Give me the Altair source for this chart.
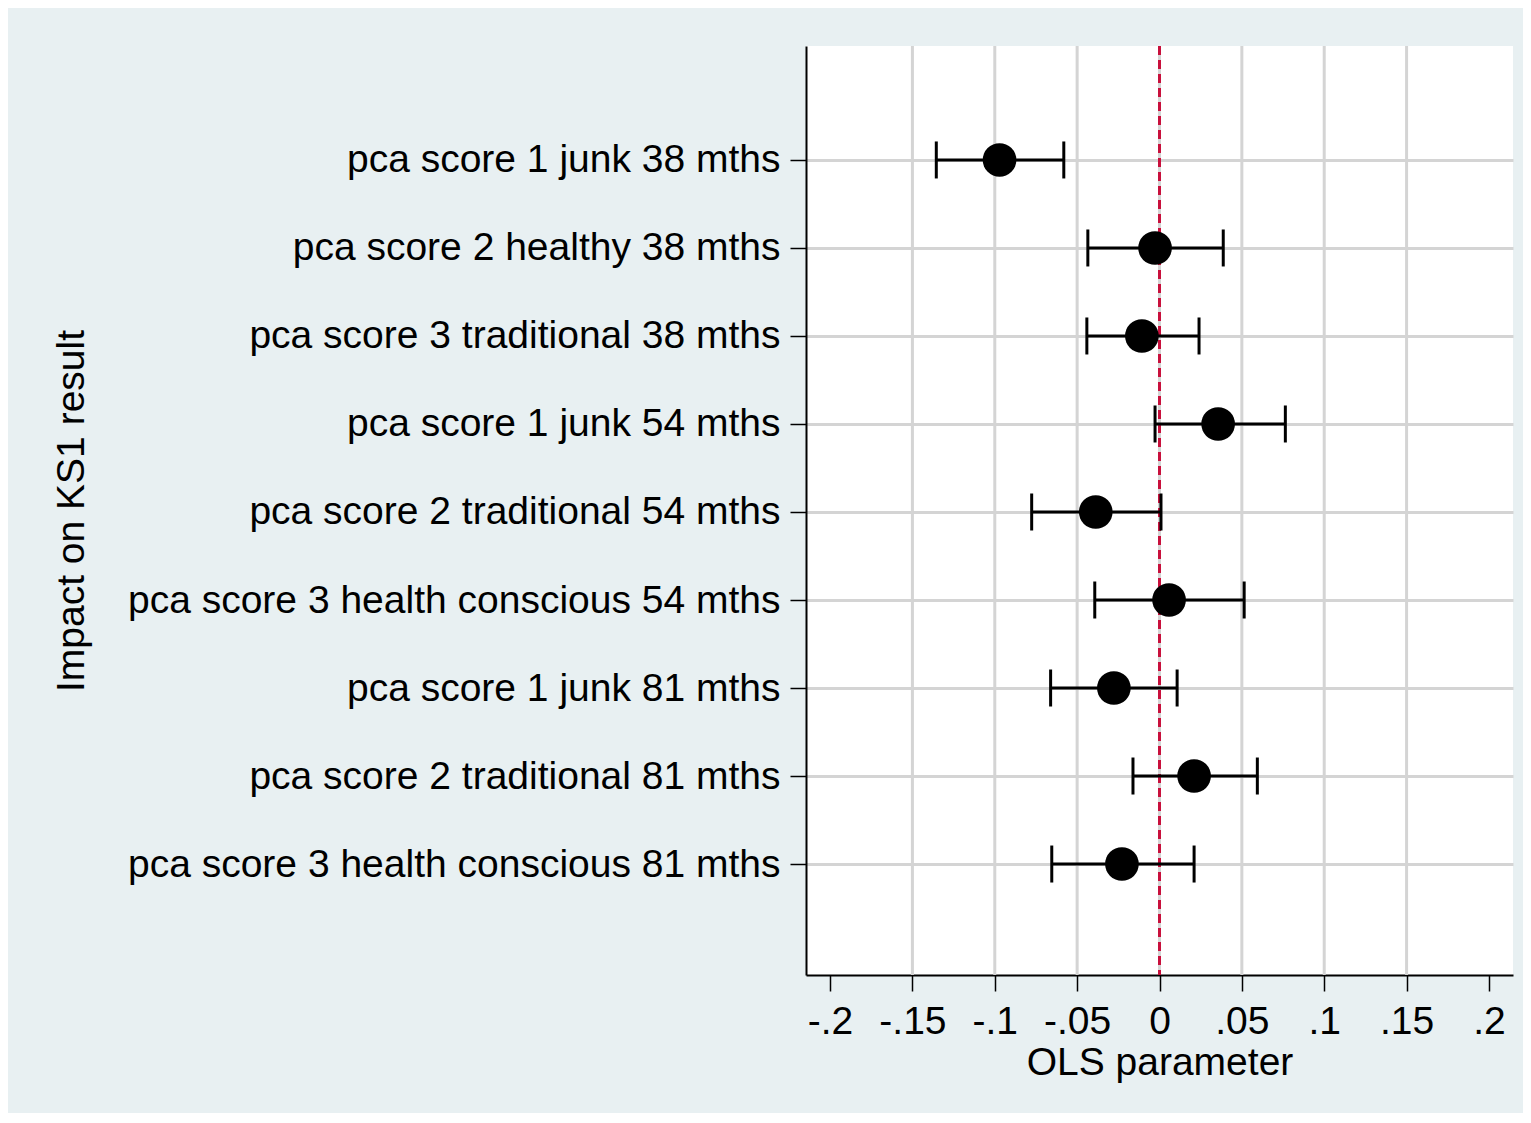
import altair as alt
import pandas as pd

labels = [
    "pca score 1 junk 38 mths",
    "pca score 2 healthy 38 mths",
    "pca score 3 traditional 38 mths",
    "pca score 1 junk 54 mths",
    "pca score 2 traditional 54 mths",
    "pca score 3 health conscious 54 mths",
    "pca score 1 junk 81 mths",
    "pca score 2 traditional 81 mths",
    "pca score 3 health conscious 81 mths",
]
coef = [-0.0971, -0.0027, -0.0107, 0.0356, -0.0387, 0.0058, -0.0277, 0.0210, -0.0228]
ci_lo = [-0.1355, -0.0435, -0.0441, -0.0027, -0.0776, -0.0393, -0.0661, -0.0161, -0.0654]
ci_hi = [-0.0581, 0.0387, 0.0240, 0.0764, 0.0009, 0.0514, 0.0107, 0.0594, 0.0210]

x_ticks = [-0.2, -0.15, -0.1, -0.05, 0, 0.05, 0.1, 0.15, 0.2]
x_tick_labels = ["-.2", "-.15", "-.1", "-.05", "0", ".05", ".1", ".15", ".2"]
x_grid = [-0.15, -0.1, -0.05, 0, 0.05, 0.1, 0.15]
ref_line = [0]

FONT = "Liberation Sans"
FS = 39

rows = list(range(1, len(labels) + 1))
df = pd.DataFrame({"row": rows, "label": labels, "coef": coef, "lo": ci_lo, "hi": ci_hi})
grid_df = pd.DataFrame({"v": x_grid})
ref_df = pd.DataFrame({"v": ref_line})

x_label_expr = "[{}][indexof([{}], datum.value)]".format(
    ",".join("'%s'" % s for s in x_tick_labels),
    ",".join(str(v) for v in x_ticks),
)
y_label_expr = "[{}][datum.value - 1]".format(",".join("'%s'" % s for s in labels))

x_scale = alt.Scale(domain=[-0.2146, 0.2146], nice=False, zero=False)
y_scale = alt.Scale(domain=[-0.295, 10.261], reverse=True, nice=False, zero=False)

x_axis = alt.Axis(
    values=x_ticks,
    labelExpr=x_label_expr,
    title="OLS parameter",
    grid=False,
    tickSize=16,
    tickWidth=1.5,
    tickColor="black",
    domainColor="black",
    domainWidth=2,
    labelPadding=11,
    labelFont=FONT,
    labelFontSize=FS,
    labelColor="black",
    labelOverlap=False,
    titleFont=FONT,
    titleFontSize=FS,
    titleFontWeight="normal",
    titleColor="black",
    titleBaseline="alphabetic",
    titleY=99,
)
y_axis = alt.Axis(
    values=rows,
    labelExpr=y_label_expr,
    title="Impact on KS1 result",
    grid=True,
    gridColor="#D4D4D4",
    gridWidth=3,
    tickSize=16,
    tickWidth=1.5,
    tickColor="black",
    domainColor="black",
    domainWidth=2,
    labelPadding=10,
    labelFont=FONT,
    labelFontSize=FS,
    labelColor="black",
    labelLimit=1000,
    labelOverlap=False,
    titleFont=FONT,
    titleFontSize=FS,
    titleFontWeight="normal",
    titleColor="black",
    titleBaseline="alphabetic",
    titleAlign="center",
    titleX=-723,
    titleY=464.5,
)

Y = alt.Y("row:Q", scale=y_scale, axis=y_axis)

vgrid = alt.Chart(grid_df).mark_rule(color="#D4D4D4", strokeWidth=3).encode(
    x=alt.X("v:Q", scale=x_scale, axis=x_axis)
)
zero = alt.Chart(ref_df).mark_rule(color="#C8103C", strokeWidth=3, strokeDash=[9, 5]).encode(
    x=alt.X("v:Q", scale=x_scale)
)
bars = alt.Chart(df).mark_rule(color="black", strokeWidth=3).encode(
    x=alt.X("lo:Q", scale=x_scale), x2="hi:Q", y=Y
)
cap_lo = alt.Chart(df).mark_tick(color="black", thickness=3, size=37, opacity=1, orient="vertical").encode(
    x=alt.X("lo:Q", scale=x_scale), y=Y
)
cap_hi = alt.Chart(df).mark_tick(color="black", thickness=3, size=37, opacity=1, orient="vertical").encode(
    x=alt.X("hi:Q", scale=x_scale), y=Y
)
points = alt.Chart(df).mark_circle(color="black", size=1134, opacity=1).encode(
    x=alt.X("coef:Q", scale=x_scale), y=Y
)

chart = (
    alt.layer(vgrid, zero, bars, cap_lo, cap_hi, points)
    .properties(
        width=707,
        height=929,
        background="#E8F0F2",
        autosize=alt.AutoSizeParams(type="none"),
        padding={"left": 798, "top": 38, "right": 10, "bottom": 138},
    )
    .configure_view(fill="white", stroke=None)
)

chart.save("out.html", embed_options={"renderer": "svg", "actions": False})
